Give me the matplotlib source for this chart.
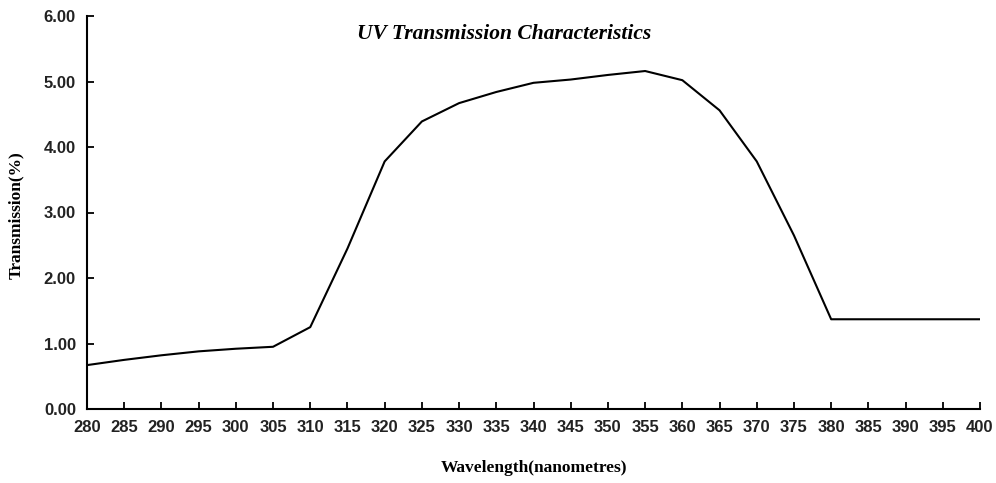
import matplotlib
matplotlib.use("Agg")
import matplotlib.pyplot as plt

wavelength = [280, 285, 290, 295, 300, 305, 310, 315, 320, 325, 330, 335, 340,
              345, 350, 355, 360, 365, 370, 375, 380, 385, 390, 395, 400]
transmission = [0.67, 0.75, 0.82, 0.88, 0.92, 0.95, 1.25, 2.45, 3.78, 4.39, 4.67,
                4.84, 4.98, 5.03, 5.10, 5.16, 5.02, 4.56, 3.78, 2.65, 1.37, 1.37,
                1.37, 1.37, 1.37]
x_ticks = list(range(280, 401, 5))
y_ticks = [0, 1, 2, 3, 4, 5, 6]

fig = plt.figure(figsize=(9.96, 4.83), dpi=100)
ax = fig.add_axes([87 / 996, 1 - 409 / 483, (980 - 87) / 996, (409 - 16) / 483])

ax.plot(wavelength, transmission, color="black", linewidth=1.5)
ax.set_xlim(280, 400)
ax.set_ylim(0, 6)
ax.set_xticks(x_ticks)
ax.set_yticks(y_ticks)
ax.set_yticklabels([f"{v:.2f}" for v in y_ticks])

for s in ["top", "right"]:
    ax.spines[s].set_visible(False)
for s in ["left", "bottom"]:
    ax.spines[s].set_linewidth(1.5)

ax.tick_params(direction="in", length=5, width=1.3, labelsize=12, pad=8)
for lbl in ax.get_xticklabels() + ax.get_yticklabels():
    lbl.set_fontfamily("Liberation Sans")
    lbl.set_fontweight("bold")
    lbl.set_color("#222222")

ax.set_xlabel("Wavelength(nanometres)", fontfamily="Liberation Serif",
              fontweight="bold", fontsize=12.5)
ax.set_ylabel("Transmission(%)", fontfamily="Liberation Serif",
              fontweight="bold", fontsize=12.5)
ax.xaxis.set_label_coords(0.5, -0.13)
ax.yaxis.set_label_coords(-0.071, 0.494)

ax.text(0.467, 0.955, "UV Transmission Characteristics", transform=ax.transAxes,
        ha="center", va="center", fontfamily="Liberation Serif",
        fontweight="bold", fontstyle="italic", fontsize=15.5)

fig.savefig("out.png", dpi=100)
